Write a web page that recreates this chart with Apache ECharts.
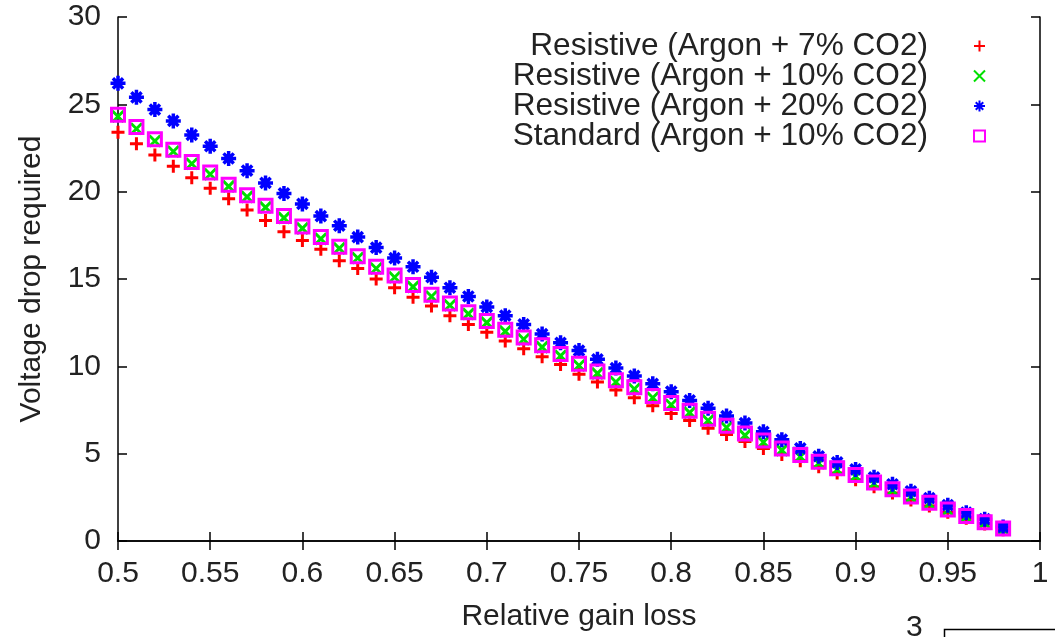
<!DOCTYPE html>
<html>
<head>
<meta charset="utf-8">
<script src="https://cdn.jsdelivr.net/npm/echarts@6/dist/echarts.min.js"></script>
<style>
html,body{margin:0;padding:0;background:#fff;}
#chart{width:1055px;height:637px;}
</style>
</head>
<body>
<div id="chart"></div>
<script>
const xValues = [0.50,0.51,0.52,0.53,0.54,0.55,0.56,0.57,0.58,0.59,0.60,0.61,0.62,0.63,0.64,0.65,0.66,0.67,0.68,0.69,0.70,0.71,0.72,0.73,0.74,0.75,0.76,0.77,0.78,0.79,0.80,0.81,0.82,0.83,0.84,0.85,0.86,0.87,0.88,0.89,0.90,0.91,0.92,0.93,0.94,0.95,0.96,0.97,0.98];
const resistive7 = [23.4,22.75,22.1,21.45,20.8,20.2,19.6,18.95,18.35,17.7,17.2,16.7,16.05,15.6,15.0,14.5,13.95,13.45,12.9,12.4,11.95,11.45,11.0,10.55,10.1,9.55,9.1,8.65,8.2,7.75,7.3,6.9,6.45,6.1,5.7,5.3,4.95,4.6,4.25,3.9,3.5,3.1,2.75,2.35,2.0,1.65,1.3,0.98,0.65];
const resistive10 = [24.3,23.6,22.9,22.3,21.6,21.0,20.3,19.7,19.1,18.5,17.9,17.3,16.75,16.2,15.6,15.1,14.55,14.0,13.5,13.0,12.5,12.0,11.55,11.1,10.6,10.05,9.6,9.1,8.7,8.2,7.8,7.35,6.9,6.5,6.05,5.65,5.2,4.82,4.45,4.08,3.7,3.28,2.9,2.5,2.14,1.76,1.38,1.04,0.68];
const resistive20 = [26.2,25.4,24.7,24.05,23.25,22.6,21.9,21.2,20.5,19.9,19.3,18.6,18.05,17.4,16.8,16.2,15.7,15.1,14.5,14.0,13.4,12.9,12.4,11.85,11.35,10.9,10.4,9.9,9.45,9.0,8.55,8.05,7.6,7.15,6.75,6.25,5.8,5.3,4.85,4.5,4.1,3.65,3.25,2.85,2.45,2.05,1.62,1.25,0.8];
const standard10 = [24.4,23.7,23.0,22.4,21.7,21.1,20.4,19.8,19.2,18.6,18.0,17.4,16.85,16.3,15.7,15.2,14.65,14.1,13.6,13.1,12.6,12.1,11.65,11.2,10.7,10.15,9.7,9.2,8.8,8.3,7.9,7.45,7.0,6.6,6.15,5.75,5.3,4.92,4.54,4.17,3.78,3.35,2.96,2.55,2.19,1.81,1.43,1.08,0.72];
const seriesNames = ['Resistive (Argon + 7% CO2)','Resistive (Argon + 10% CO2)','Resistive (Argon + 20% CO2)','Standard (Argon + 10% CO2)'];
const xTickLabels = ['0.5','0.55','0.6','0.65','0.7','0.75','0.8','0.85','0.9','0.95','1'];
const yTickLabels = ['0','5','10','15','20','25','30'];

const FONT = 'Liberation Sans';
const pairs = ys => xValues.map((x, i) => [x, ys[i]]);

const SYM_PLUS = 'path://M0,5L10,5M5,0L5,10';
const SYM_CROSS = 'path://M0,0L10,10M10,0L0,10';
const SYM_STAR = 'path://M0,5L10,5M5,0L5,10M1.6,1.6L8.4,8.4M8.4,1.6L1.6,8.4';

function mkSeries(name, ys, symbol, size, color, bw) {
  return {
    name: name, type: 'scatter', data: pairs(ys),
    symbol: symbol, symbolSize: size,
    itemStyle: { color: 'rgba(0,0,0,0)', borderColor: color, borderWidth: bw, opacity: 1 },
    emphasis: { disabled: true },
    silent: true
  };
}

const axisLineStyle = { color: '#000', width: 1.5 };
const chart = echarts.init(document.getElementById('chart'), null, { renderer: 'canvas' });
chart.setOption({
  animation: false,
  backgroundColor: '#fff',
  textStyle: { fontFamily: FONT },
  grid: { left: 118, right: 15, top: 17, bottom: 96, containLabel: false },
  legend: {
    orient: 'vertical', align: 'right', right: 64, top: 25, itemGap: -2,
    itemWidth: 11, itemHeight: 11,
    data: seriesNames,
    textStyle: { fontFamily: FONT, fontSize: 31.6, color: '#222', lineHeight: 30, padding: [0, 41, 0, 0] },
    selectedMode: false
  },
  xAxis: [{
    type: 'value', min: 0.5, max: 1, interval: 0.05, position: 'bottom',
    name: 'Relative gain loss', nameLocation: 'middle', nameGap: 61,
    nameTextStyle: { fontFamily: FONT, fontSize: 30, color: '#222' },
    axisLine: { show: true, lineStyle: axisLineStyle },
    axisTick: { show: true, inside: true, length: 9, lineStyle: axisLineStyle },
    axisLabel: { fontFamily: FONT, fontSize: 30, color: '#222', margin: 18,
      formatter: v => xTickLabels[Math.round((v - 0.5) / 0.05)] },
    splitLine: { show: false }
  }, {
    type: 'value', min: 0.5, max: 1, interval: 0.05, position: 'top',
    axisLine: { show: true, lineStyle: axisLineStyle },
    axisTick: { show: true, inside: true, length: 9, lineStyle: axisLineStyle },
    axisLabel: { show: false }, splitLine: { show: false }
  }],
  yAxis: [{
    type: 'value', min: 0, max: 30, interval: 5, position: 'left',
    name: 'Voltage drop required', nameLocation: 'middle', nameGap: 71, nameRotate: 90,
    nameTextStyle: { fontFamily: FONT, fontSize: 30, color: '#222' },
    axisLine: { show: true, lineStyle: axisLineStyle },
    axisTick: { show: true, inside: true, length: 9, lineStyle: axisLineStyle },
    axisLabel: { fontFamily: FONT, fontSize: 30, color: '#222', margin: 17,
      formatter: v => yTickLabels[Math.round(v / 5)] },
    splitLine: { show: false }
  }, {
    type: 'value', min: 0, max: 30, interval: 5, position: 'right',
    axisLine: { show: true, lineStyle: axisLineStyle },
    axisTick: { show: true, inside: true, length: 9, lineStyle: axisLineStyle },
    axisLabel: { show: false }, splitLine: { show: false }
  }],
  series: [
    mkSeries(seriesNames[0], resistive7, SYM_PLUS, 13, '#ff0000', 3),
    mkSeries(seriesNames[1], resistive10, SYM_CROSS, 11, '#00e000', 3),
    mkSeries(seriesNames[2], resistive20, SYM_STAR, 15, '#0000ff', 3.5),
    mkSeries(seriesNames[3], standard10, 'rect', 13, '#ff00ff', 3)
  ],
  graphic: [
    { type: 'text', left: 906, top: 613, silent: true,
      style: { text: '3', font: '30px "Liberation Sans"', fill: '#222' } },
    { type: 'rect', left: 942, top: 627, silent: true,
      shape: { x: 0, y: 0, width: 130, height: 40 },
      style: { fill: 'none', stroke: '#000', lineWidth: 1.5 } }
  ]
});
</script>
</body>
</html>
